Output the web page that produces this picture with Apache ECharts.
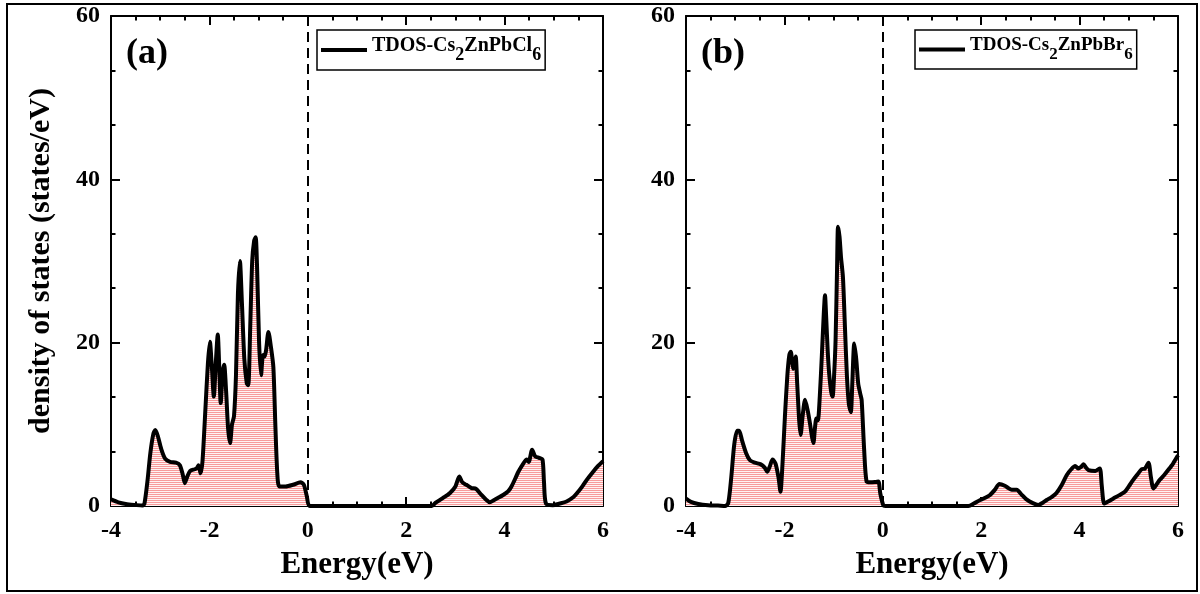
<!DOCTYPE html>
<html>
<head>
<meta charset="utf-8">
<script src="https://cdn.jsdelivr.net/npm/echarts@6.0.0/dist/echarts.min.js"></script>
<style>
  html, body { margin: 0; padding: 0; background: #fff; }
  #main { width: 1200px; height: 594px; }
</style>
</head>
<body>
<div id="main"></div>
<script>
// panel (a) Cs2ZnPbCl6
var energyA = [-4.00, -3.85, -3.70, -3.50, -3.36, -3.32, -3.26, -3.20, -3.14, -3.10, -3.05, -2.98, -2.90, -2.80, -2.68, -2.60, -2.54, -2.50, -2.45, -2.39, -2.30, -2.26, -2.22, -2.18, -2.14, -2.08, -2.03, -1.99, -1.95, -1.91, -1.87, -1.83, -1.80, -1.77, -1.73, -1.70, -1.66, -1.62, -1.58, -1.54, -1.50, -1.46, -1.42, -1.38, -1.34, -1.29, -1.24, -1.21, -1.17, -1.13, -1.09, -1.06, -1.03, -0.99, -0.95, -0.91, -0.88, -0.85, -0.80, -0.75, -0.70, -0.66, -0.62, -0.58, -0.45, -0.30, -0.15, -0.08, -0.02, 0.04, 1.00, 2.00, 2.52, 2.60, 2.75, 2.89, 3.00, 3.08, 3.14, 3.22, 3.33, 3.42, 3.53, 3.62, 3.70, 3.78, 3.87, 3.97, 4.07, 4.14, 4.22, 4.28, 4.38, 4.45, 4.49, 4.56, 4.62, 4.70, 4.77, 4.80, 4.84, 4.98, 5.12, 5.26, 5.40, 5.47, 5.58, 5.67, 5.80, 5.90, 6.00];
var dosA = [0.8, 0.45, 0.25, 0.12, 0.05, 0.3, 3.0, 6.5, 8.8, 9.3, 8.6, 7.0, 5.8, 5.4, 5.3, 5.0, 3.8, 2.8, 3.6, 4.3, 4.5, 4.6, 5.0, 4.0, 5.5, 12.0, 17.5, 20.1, 17.0, 13.4, 17.5, 21.0, 17.0, 12.6, 16.5, 17.3, 14.0, 9.5, 7.7, 10.0, 11.0, 16.0, 26.0, 30.0, 25.0, 18.0, 15.0, 14.8, 22.0, 30.0, 32.5, 32.9, 29.0, 20.0, 16.0, 18.5, 18.3, 19.0, 21.3, 19.5, 17.0, 10.0, 4.0, 2.4, 2.4, 2.6, 2.9, 2.6, 1.2, 0.0, 0.0, 0.0, 0.0, 0.4, 1.0, 1.6, 2.4, 3.6, 2.9, 2.6, 2.2, 2.1, 1.35, 0.8, 0.45, 0.7, 1.0, 1.35, 1.8, 2.4, 3.4, 4.2, 5.2, 5.7, 5.4, 6.9, 6.1, 5.9, 5.7, 3.0, 0.3, 0.1, 0.3, 0.55, 1.1, 1.55, 2.4, 3.2, 4.2, 4.9, 5.5];

// panel (b) Cs2ZnPbBr6
var energyB = [-4.00, -3.90, -3.75, -3.55, -3.35, -3.20, -3.14, -3.08, -3.02, -2.96, -2.92, -2.86, -2.78, -2.70, -2.60, -2.48, -2.40, -2.35, -2.30, -2.24, -2.18, -2.12, -2.08, -2.04, -1.99, -1.94, -1.90, -1.87, -1.84, -1.82, -1.79, -1.77, -1.74, -1.70, -1.67, -1.63, -1.58, -1.53, -1.48, -1.44, -1.41, -1.38, -1.35, -1.32, -1.28, -1.24, -1.20, -1.175, -1.15, -1.12, -1.09, -1.05, -1.02, -0.99, -0.96, -0.93, -0.91, -0.88, -0.85, -0.81, -0.77, -0.73, -0.69, -0.65, -0.62, -0.58, -0.54, -0.50, -0.46, -0.43, -0.38, -0.33, -0.25, -0.15, -0.09, -0.05, 0.01, 0.05, 1.00, 1.74, 1.85, 1.98, 2.08, 2.18, 2.28, 2.37, 2.49, 2.55, 2.62, 2.72, 2.82, 2.92, 3.05, 3.16, 3.25, 3.33, 3.43, 3.53, 3.64, 3.74, 3.83, 3.91, 3.97, 4.03, 4.08, 4.13, 4.18, 4.32, 4.41, 4.45, 4.50, 4.58, 4.68, 4.80, 4.92, 5.00, 5.09, 5.18, 5.26, 5.33, 5.40, 5.45, 5.50, 5.56, 5.63, 5.72, 5.80, 5.90, 6.00];
var dosB = [0.9, 0.5, 0.25, 0.1, 0.05, 0.0, 0.4, 3.5, 7.5, 9.2, 9.2, 8.0, 6.5, 5.6, 5.3, 5.1, 4.7, 4.2, 4.8, 5.7, 5.2, 3.5, 1.75, 5.0, 10.9, 16.0, 18.5, 18.9, 17.5, 16.8, 17.5, 18.3, 15.0, 10.5, 8.7, 11.0, 13.0, 11.8, 10.1, 8.5, 7.7, 9.5, 10.7, 10.5, 13.5, 18.3, 23.5, 25.8, 23.0, 19.0, 16.2, 14.0, 13.4, 16.0, 20.3, 29.0, 34.2, 33.0, 30.5, 28.0, 22.0, 16.0, 12.5, 11.5, 15.0, 19.9, 18.0, 15.0, 13.8, 13.0, 7.0, 3.0, 2.9, 2.95, 3.0, 1.5, 0.1, 0.0, 0.0, 0.0, 0.3, 0.73, 1.0, 1.35, 2.0, 2.7, 2.45, 2.2, 2.0, 2.0, 1.4, 0.8, 0.35, 0.12, 0.4, 0.73, 1.1, 1.6, 2.6, 3.8, 4.5, 4.9, 4.6, 4.8, 5.1, 4.7, 4.4, 4.3, 4.6, 2.5, 0.3, 0.55, 0.9, 1.3, 1.75, 2.4, 3.2, 3.9, 4.5, 4.6, 5.3, 3.5, 2.15, 2.6, 3.2, 3.8, 4.4, 5.2, 6.2];

var xTicks = { min: -4, max: 6, interval: 2 };
var yTicks = { min: 0, max: 60, interval: 20 };

var FONT = 'Liberation Serif';

function zip(xs, ys) {
    return xs.map(function (x, i) { return [x, ys[i]]; });
}

// pinkish red hatch fill
function hatch() {
    var c = document.createElement('canvas');
    c.width = 2; c.height = 2;
    var g = c.getContext('2d');
    g.fillStyle = '#fff2f2';
    g.fillRect(0, 0, 2, 2);
    g.fillStyle = '#f79a9a';
    g.fillRect(0, 0, 2, 1);
    return c;
}

function drawChart() {
    var chartDom = document.getElementById('main');
    var myChart = echarts.init(chartDom);
    var fill = { image: hatch(), repeat: 'repeat' };

    var labelStyle = { fontFamily: FONT, fontWeight: 'bold', fontSize: 24, color: '#000' };
    var lineStyle = { color: '#000', width: 2 };
    var tick = { inside: true, length: 9, lineStyle: { color: '#000', width: 2 } };
    var minor = { show: true, length: 4.5, lineStyle: { color: '#000', width: 2 } };

    function xAx(grid, pos, labelled) {
        return {
            type: 'value', gridIndex: grid, position: pos,
            min: xTicks.min, max: xTicks.max, interval: xTicks.interval,
            axisLine: { show: true, onZero: false, lineStyle: lineStyle },
            axisTick: tick,
            minorTick: Object.assign({ splitNumber: 4 }, minor),
            splitLine: { show: false },
            axisLabel: labelled ? Object.assign({ margin: 13, showMinLabel: true, showMaxLabel: true }, labelStyle) : { show: false },
            name: labelled ? 'Energy(eV)' : '',
            nameLocation: 'middle', nameGap: 43,
            nameTextStyle: { fontFamily: FONT, fontWeight: 'bold', fontSize: 31, color: '#000' }
        };
    }
    function yAx(grid, pos, labelled, name) {
        return {
            type: 'value', gridIndex: grid, position: pos,
            min: yTicks.min, max: yTicks.max, interval: yTicks.interval,
            axisLine: { show: true, onZero: false, lineStyle: lineStyle },
            axisTick: tick,
            minorTick: Object.assign({ splitNumber: 3 }, minor),
            splitLine: { show: false },
            axisLabel: labelled ? Object.assign({ margin: 11 }, labelStyle) : { show: false },
            name: name || '',
            nameLocation: 'middle', nameGap: 55,
            nameTextStyle: { fontFamily: FONT, fontWeight: 'bold', fontSize: 30, color: '#000' }
        };
    }

    function legend(name, sub, left, size) {
        return {
            data: [{ name: name, icon: 'rect', itemStyle: { color: '#000' } }],
            left: left, top: 30,
            selectedMode: false,
            borderColor: '#000', borderWidth: 1.5, borderRadius: 0,
            padding: [6, 4, 6, 4],
            itemWidth: 46, itemHeight: 4, itemGap: 4,
            formatter: function () { return sub; },
            textStyle: {
                fontFamily: FONT, fontWeight: 'bold', fontSize: size, color: '#000',
                rich: {
                    n: { fontFamily: FONT, fontWeight: 'bold', fontSize: size, color: '#000', padding: [0, 0, 8, 0], verticalAlign: 'bottom' },
                    s: { fontFamily: FONT, fontWeight: 'bold', fontSize: size - 2, color: '#000', verticalAlign: 'bottom' }
                }
            }
        };
    }

    function series(name, data, xi, yi) {
        return {
            name: name, type: 'line', xAxisIndex: xi, yAxisIndex: yi,
            data: data, smooth: 0.25, symbol: 'none', clip: true,
            color: '#000',
            lineStyle: { color: '#000', width: 4 },
            areaStyle: { color: fill, opacity: 1 },
            markLine: {
                silent: true, symbol: 'none', label: { show: false },
                lineStyle: { color: '#000', width: 2, type: [10, 6] },
                data: [{ xAxis: 0 }]
            },
            z: 3
        };
    }

    var option = {
        animation: false,
        backgroundColor: '#fff',
        title: [
            { text: '(a)', left: 121, top: 31, textStyle: { fontFamily: FONT, fontWeight: 'bold', fontSize: 36, color: '#000' } },
            { text: '(b)', left: 696, top: 31, textStyle: { fontFamily: FONT, fontWeight: 'bold', fontSize: 36, color: '#000' } }
        ],
        legend: [
            legend('TDOS-Cs2ZnPbCl6', '{n|TDOS-Cs}{s|2}{n|ZnPbCl}{s|6}', 317, 20),
            legend('TDOS-Cs2ZnPbBr6', '{n|TDOS-Cs}{s|2}{n|ZnPbBr}{s|6}', 915, 19)
        ],
        grid: [
            { left: 111, top: 16, width: 492, height: 490 },
            { left: 686, top: 16, width: 492, height: 490 }
        ],
        xAxis: [xAx(0, 'bottom', true), xAx(0, 'top', false), xAx(1, 'bottom', true), xAx(1, 'top', false)],
        yAxis: [yAx(0, 'left', true, 'density of states (states/eV)'), yAx(0, 'right', false), yAx(1, 'left', true), yAx(1, 'right', false)],
        series: [
            series('TDOS-Cs2ZnPbCl6', zip(energyA, dosA), 0, 0),
            series('TDOS-Cs2ZnPbBr6', zip(energyB, dosB), 2, 2)
        ],
        graphic: [{
            type: 'rect', silent: true, z: 10,
            shape: { x: 7, y: 4, width: 1190, height: 587 },
            style: { fill: 'none', stroke: '#000', lineWidth: 2 }
        }]
    };

    option && myChart.setOption(option);
}

document.addEventListener('DOMContentLoaded', function () {
    drawChart();
});
</script>
</body>
</html>
